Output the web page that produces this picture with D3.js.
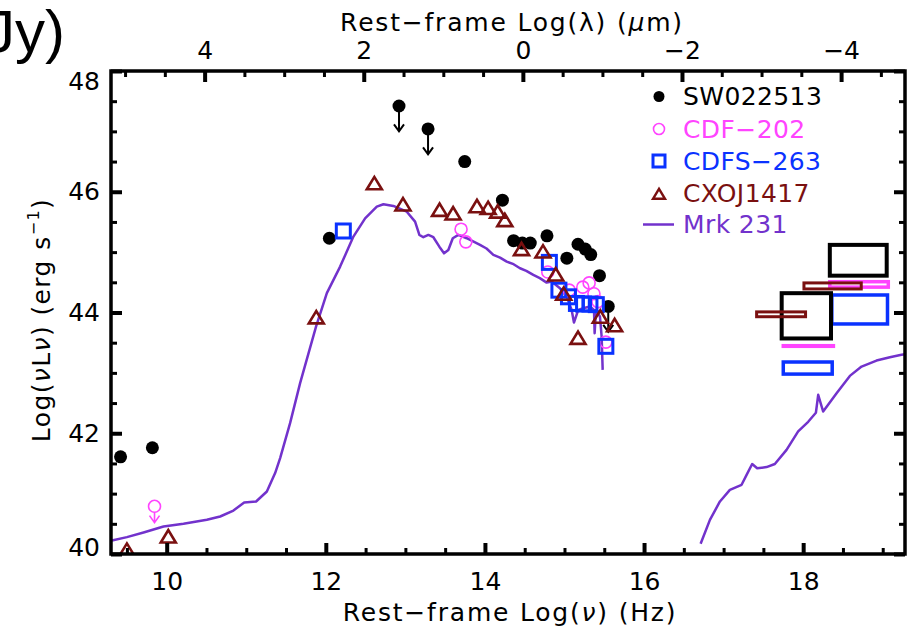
<!DOCTYPE html>
<html><head><meta charset="utf-8">
<script src="https://cdn.jsdelivr.net/npm/d3@7"></script>
<style>
body{margin:0;background:#fff;}
svg{display:block;font-family:"DejaVu Sans",sans-serif;}
</style></head><body>
<svg id="c" width="912" height="635"></svg>
<script>
// ---------------- DATA ----------------
const seriesNames = ["SW022513", "CDF-202", "CDFS-263", "CXOJ1417", "Mrk 231"];
const nuTicks = [10, 12, 14, 16, 18];
const lamTicks = [4, 2, 0, -2, -4];
const lumTicks = [40, 42, 44, 46, 48];

// SW022513 (filled black circles); ul = upper limit
const swNu = [9.42, 9.82, 12.045, 12.92, 13.285, 13.746, 14.22, 14.36, 14.47, 14.57, 14.78, 15.03, 15.17, 15.26, 15.33, 15.44, 15.55];
const swL  = [41.61, 41.76, 45.23, 47.42, 47.04, 46.50, 45.86, 45.19, 45.15, 45.15, 45.27, 44.90, 45.13, 45.05, 44.96, 44.61, 44.10];
const swUL = [0, 0, 0, 1, 1, 0, 0, 0, 0, 0, 0, 0, 0, 0, 0, 0, 1];

// CDF-202 (open magenta circles)
const cdfNu = [9.847, 13.70, 13.76, 14.79, 15.06, 15.23, 15.31, 15.37, 15.42, 15.52];
const cdfL  = [40.79, 45.38, 45.17, 44.67, 44.37, 44.42, 44.49, 44.31, 44.18, 43.51];
const cdfUL = [1, 0, 0, 0, 0, 0, 0, 0, 0, 0];

// CDFS-263 (open blue squares)
const cdfsNu = [12.22, 14.81, 14.93, 15.05, 15.15, 15.24, 15.32, 15.40, 15.52];
const cdfsL  = [45.35, 44.83, 44.37, 44.26, 44.15, 44.14, 44.14, 44.13, 43.44];

// CXOJ1417 (open dark-red triangles)
const cxoNu = [9.50, 10.02, 11.88, 12.61, 12.97, 13.43, 13.60, 13.90, 14.04, 14.16, 14.25, 14.46, 14.73, 14.89, 14.99, 15.17, 15.45, 15.63];
const cxoL  = [40.07, 40.29, 43.92, 46.14, 45.79, 45.70, 45.64, 45.76, 45.73, 45.67, 45.53, 45.05, 45.01, 44.63, 44.31, 43.58, 43.93, 43.79];

// X-ray boxes: source, nu range, log L range
const boxSrc = ["CDF-202", "CDFS-263", "SW022513", "CDF-202", "CDFS-263", "SW022513", "CXOJ1417", "CXOJ1417"];
const boxNu0 = [17.75, 17.75, 18.335, 18.335, 18.36, 17.73, 18.01, 17.415];
const boxNu1 = [18.38, 18.365, 19.05, 19.07, 19.06, 18.35, 18.73, 18.03];
const boxL0  = [43.44, 42.98, 44.61, 44.42, 43.81, 43.57, 44.39, 43.93];
const boxL1  = [43.45, 43.18, 45.12, 44.51, 44.29, 44.32, 44.49, 44.01];

// Mrk 231 template: IR-UV part
const mrkNu1 = [9.312, 9.50, 9.709, 9.96, 10.211, 10.505, 10.672, 10.839, 10.974, 11.124, 11.259, 11.363, 11.426, 11.551, 11.677, 11.878, 12.013, 12.18, 12.347, 12.494, 12.641, 12.724, 12.849, 13.018, 13.122, 13.176, 13.226, 13.289, 13.352, 13.427, 13.486, 13.54, 13.596, 13.666, 13.771, 13.938, 14.02, 14.106, 14.19, 14.274, 14.36, 14.441, 14.52, 14.608, 14.69, 14.776, 14.839, 14.943, 15.028, 15.09, 15.119, 15.173, 15.236, 15.32, 15.371, 15.379, 15.396, 15.446, 15.467, 15.48];
const mrkL1  = [40.224, 40.28, 40.356, 40.455, 40.50, 40.566, 40.621, 40.72, 40.853, 40.869, 41.035, 41.34, 41.588, 42.167, 42.83, 43.77, 44.32, 44.76, 45.257, 45.56, 45.753, 45.793, 45.765, 45.67, 45.505, 45.285, 45.247, 45.285, 45.247, 45.09, 44.98, 45.036, 45.23, 45.285, 45.23, 45.12, 45.06, 44.954, 44.91, 44.843, 44.80, 44.733, 44.69, 44.623, 44.57, 44.495, 44.512, 44.402, 44.263, 44.043, 43.833, 44.043, 44.071, 44.098, 44.043, 43.657, 44.043, 43.932, 43.60, 43.05];
// Mrk 231 template: X-ray part
const mrkNu2 = [16.711, 16.828, 16.954, 17.079, 17.226, 17.289, 17.359, 17.422, 17.54, 17.644, 17.791, 17.937, 18.063, 18.16, 18.189, 18.251, 18.42, 18.587, 18.734, 18.922, 19.09, 19.236, 19.28];
const mrkL2  = [40.169, 40.566, 40.87, 41.063, 41.146, 41.31, 41.49, 41.42, 41.44, 41.49, 41.725, 42.03, 42.19, 42.34, 42.636, 42.36, 42.664, 42.95, 43.104, 43.204, 43.26, 43.30, 43.31];

// ---------------- STYLE ----------------
const col = {"SW022513":"#000000","CDF-202":"#ff44ff","CDFS-263":"#0a32ff","CXOJ1417":"#7a1010","Mrk 231":"#7232cc"};
const FONT = "'DejaVu Sans', sans-serif";
const LOGC = 14.4768; // log10(c in micron/s)

const svg = d3.select("#c");
const x = d3.scaleLinear().domain([9.3, 19.28]).range([111, 905]);
const xl = d3.scaleLinear().domain([LOGC - 9.3, LOGC - 19.28]).range([111, 905]);
const y = d3.scaleLinear().domain([40, 48]).range([554, 71]);

// clip
svg.append("defs").append("clipPath").attr("id","clip").append("rect")
  .attr("x",111).attr("y",71).attr("width",794).attr("height",483);

// cut-off text from neighbouring panel
svg.append("text").attr("x",65).attr("y",52).attr("text-anchor","end")
  .attr("font-family","'Liberation Sans', Arial, sans-serif").attr("font-size",60).text("Jy)");

const plot = svg.append("g").attr("clip-path","url(#clip)");

// Mrk 231 curves
const line = d3.line().x(d=>x(d[0])).y(d=>y(d[1]));
[[mrkNu1,mrkL1],[mrkNu2,mrkL2]].forEach(([n,l])=>{
  plot.append("path").datum(n.map((v,i)=>[v,l[i]])).attr("d",line)
    .attr("fill","none").attr("stroke",col["Mrk 231"]).attr("stroke-width",2.5).attr("stroke-linejoin","round");
});

// X-ray boxes
const bw = {"SW022513":4,"CDF-202":3.5,"CDFS-263":3.5,"CXOJ1417":3};
boxSrc.forEach((s,i)=>{
  plot.append("rect").attr("x",x(boxNu0[i])).attr("y",y(boxL1[i]))
    .attr("width",x(boxNu1[i])-x(boxNu0[i])).attr("height",Math.max(0.01,y(boxL0[i])-y(boxL1[i])))
    .attr("fill","none").attr("stroke",col[s]).attr("stroke-width",bw[s]);
});

function arrow(g, cx, cy0, cy1, c, w){
  g.append("path").attr("d",`M${cx},${cy0}L${cx},${cy1}M${cx-5},${cy1-7}L${cx},${cy1}L${cx+5},${cy1-7}`)
   .attr("fill","none").attr("stroke",c).attr("stroke-width",w);
}

// SW022513
swNu.forEach((n,i)=>{
  plot.append("circle").attr("cx",x(n)).attr("cy",y(swL[i])).attr("r",6.5).attr("fill",col["SW022513"]);
  if(swUL[i]) arrow(plot, x(n), y(swL[i])+6, y(swL[i]-0.42), "#000", 2);
});
// CDF-202
cdfNu.forEach((n,i)=>{
  plot.append("circle").attr("cx",x(n)).attr("cy",y(cdfL[i])).attr("r",6).attr("fill","none")
    .attr("stroke",col["CDF-202"]).attr("stroke-width",1.6);
  if(cdfUL[i]) arrow(plot, x(n), y(cdfL[i])+6, y(cdfL[i]-0.27), col["CDF-202"], 1.6);
});
// CDFS-263
cdfsNu.forEach((n,i)=>{
  plot.append("rect").attr("x",x(n)-7).attr("y",y(cdfsL[i])-7).attr("width",14).attr("height",14)
    .attr("fill","none").attr("stroke",col["CDFS-263"]).attr("stroke-width",3);
});
// CXOJ1417
const tri = (cx,cy,s)=>`M${cx-s},${cy+s*0.8}L${cx},${cy-s*0.85}L${cx+s},${cy+s*0.8}Z`;
cxoNu.forEach((n,i)=>{
  plot.append("path").attr("d",tri(x(n),y(cxoL[i]),7.5))
    .attr("fill","none").attr("stroke",col["CXOJ1417"]).attr("stroke-width",2.6).attr("stroke-linejoin","miter");
});

// ---------------- AXES ----------------
function styleAxis(g, w){
  g.select(".domain").remove();
  g.selectAll(".tick line").attr("stroke","#000").attr("stroke-width",w);
  g.selectAll(".tick text").attr("font-family",FONT).attr("font-size",25).attr("fill","#000");
}
const fmt = d3.format("d");
const minorNu = d3.range(9.5, 19.01, 0.5).filter(v=>v%2!==0);
const minorLam = d3.range(-4.5, 5.01, 0.5).filter(v=>v%2!==0);
const minorL = d3.range(40.5, 48, 0.5).filter(v=>v%2!==0);

let g;
g = svg.append("g").attr("transform","translate(0,554)").call(d3.axisBottom(x).tickValues(nuTicks).tickSize(-11).tickPadding(18).tickFormat(fmt)); styleAxis(g,4);
g = svg.append("g").attr("transform","translate(0,554)").call(d3.axisBottom(x).tickValues(minorNu).tickSize(-6).tickFormat("")); styleAxis(g,3);
g = svg.append("g").attr("transform","translate(0,71)").call(d3.axisTop(xl).tickValues(lamTicks).tickSize(-11).tickPadding(12).tickFormat(fmt)); styleAxis(g,4);
g = svg.append("g").attr("transform","translate(0,71)").call(d3.axisTop(xl).tickValues(minorLam).tickSize(-6).tickFormat("")); styleAxis(g,3);
g = svg.append("g").attr("transform","translate(111,0)").call(d3.axisLeft(y).tickValues(lumTicks).tickSize(-11).tickPadding(11).tickFormat(fmt)); styleAxis(g,4);
// end labels sit inside the frame span, as in the reference
g.selectAll(".tick text").attr("dy", d => d === 48 ? "0.72em" : d === 40 ? "0.05em" : "0.32em");
g = svg.append("g").attr("transform","translate(111,0)").call(d3.axisLeft(y).tickValues(minorL).tickSize(-6).tickFormat("")); styleAxis(g,3);
g = svg.append("g").attr("transform","translate(905,0)").call(d3.axisRight(y).tickValues(lumTicks).tickSize(-11).tickFormat("")); styleAxis(g,4);
g = svg.append("g").attr("transform","translate(905,0)").call(d3.axisRight(y).tickValues(minorL).tickSize(-6).tickFormat("")); styleAxis(g,3);

// frame
svg.append("rect").attr("x",111).attr("y",71).attr("width",794).attr("height",483)
  .attr("fill","none").attr("stroke","#000").attr("stroke-width",3.5);

// titles
const t1 = svg.append("text").attr("x",512).attr("y",31).attr("text-anchor","middle")
  .attr("font-family",FONT).attr("font-size",25).attr("letter-spacing",1.8);
t1.append("tspan").text("Rest\u2212frame Log(\u03bb) (");
t1.append("tspan").attr("font-style","italic").text("\u03bc");
t1.append("tspan").text("m)");

const t2 = svg.append("text").attr("x",510).attr("y",621).attr("text-anchor","middle")
  .attr("font-family",FONT).attr("font-size",25).attr("letter-spacing",1.8);
t2.append("tspan").text("Rest\u2212frame Log(");
t2.append("tspan").attr("font-style","italic").text("\u03bd");
t2.append("tspan").text(") (Hz)");

const t3 = svg.append("text").attr("transform","translate(50,320) rotate(-90)").attr("text-anchor","middle")
  .attr("font-family",FONT).attr("font-size",25).attr("letter-spacing",1.4);
t3.append("tspan").text("Log(");
t3.append("tspan").attr("font-style","italic").text("\u03bd");
t3.append("tspan").text("L");
t3.append("tspan").attr("font-style","italic").text("\u03bd");
t3.append("tspan").text(") (erg s");
t3.append("tspan").attr("font-size",16).attr("dy",-11).text("\u22121");
t3.append("tspan").attr("dy",11).text(")");

// ---------------- LEGEND ----------------
const leg = svg.append("g");
const rowY = [105, 137.5, 169.5, 201.5, 233];
seriesNames.forEach((s,i)=>{
  const cy = rowY[i]-8.5, cx = 659;
  if(i===0) leg.append("circle").attr("cx",cx).attr("cy",cy).attr("r",5.5).attr("fill",col[s]);
  if(i===1) leg.append("circle").attr("cx",cx).attr("cy",cy).attr("r",5.5).attr("fill","none").attr("stroke",col[s]).attr("stroke-width",1.6);
  if(i===2) leg.append("rect").attr("x",cx-6).attr("y",cy-6).attr("width",12).attr("height",12).attr("fill","none").attr("stroke",col[s]).attr("stroke-width",3);
  if(i===3) leg.append("path").attr("d",tri(cx,cy+1,6)).attr("fill","none").attr("stroke",col[s]).attr("stroke-width",2.4);
  if(i===4) leg.append("line").attr("x1",643).attr("x2",674).attr("y1",cy).attr("y2",cy).attr("stroke",col[s]).attr("stroke-width",2.5);
  leg.append("text").attr("x",683).attr("y",rowY[i]).attr("font-family",FONT).attr("font-size",25)
    .attr("letter-spacing",0.4).attr("fill",col[s]).text(s.replace("-","\u2212"));
});
</script></body></html>
